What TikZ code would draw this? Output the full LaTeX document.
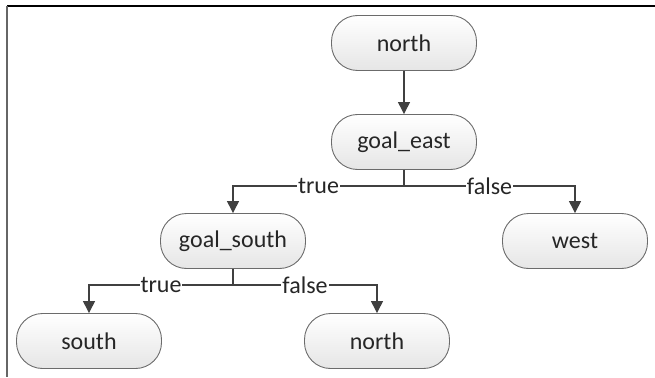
\documentclass[tikz,border=0pt]{standalone}
\usepackage{fontspec}
\setmainfont{Carlito}
\usetikzlibrary{arrows.meta}

\tikzset{
	state/.style={draw=black!58, line width=0.9pt, rounded corners=26pt,
		top color=white, bottom color=black!10,
		minimum width=145pt, minimum height=55pt, inner sep=0pt,
		font=\fontsize{24}{28}\selectfont, text=black!85},
	edge/.style={draw=black!75, line width=1.3pt,
		-{Triangle[length=12pt,width=12pt]}},
	branch/.style={draw=black!75, line width=1.3pt},
	cond/.style={fill=white, inner sep=1pt,
		font=\fontsize{24}{28}\selectfont, text=black!85}
}

\begin{document}
\begin{tikzpicture}[x=1pt,y=1pt]
	\useasboundingbox (0,0) rectangle (655,-377);
	\draw[black, line width=1.5pt] (7,-6) -- (655,-6);
	\draw[black!60, line width=2pt] (7,-6) -- (7,-377);

	\node[state] (top) at (404,-43) {north};
	\node[state] (ge) at (404,-142) {goal\_east};
	\node[state] (gs) at (233,-241) {goal\_south};
	\node[state] (w) at (575,-241) {west};
	\node[state] (s) at (89,-341) {south};
	\node[state] (n) at (377,-341) {north};

	\coordinate (j1) at (404,-186);
	\coordinate (j2) at (233,-285);

	\draw[edge] (top) -- (ge);
	\draw[branch] (ge) -- (j1);
	\draw[edge] (j1) -| node[cond, pos=0.25] {true} (gs);
	\draw[edge] (j1) -| node[cond, pos=0.25] {false} (w);
	\draw[branch] (gs) -- (j2);
	\draw[edge] (j2) -| node[cond, pos=0.25] {true} (s);
	\draw[edge] (j2) -| node[cond, pos=0.25] {false} (n);
\end{tikzpicture}
\end{document}
